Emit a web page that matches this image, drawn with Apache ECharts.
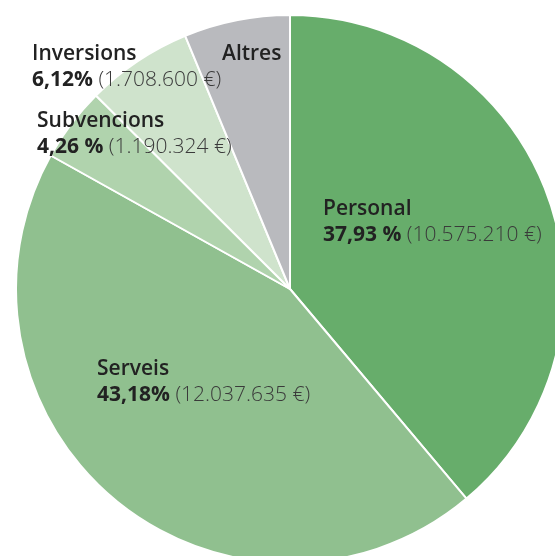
<!DOCTYPE html>
<html>
<head>
<meta charset="utf-8">
<script src="https://cdn.jsdelivr.net/npm/echarts@6/dist/echarts.min.js"></script>
<style>
html,body{margin:0;padding:0;background:#fff;}
#chart{width:555px;height:556px;}
</style>
</head>
<body>
<div id="chart"></div>
<script>
const categories = ['Personal', 'Serveis', 'Subvencions', 'Inversions', 'Altres'];
const values = [10575210, 12037635, 1190324, 1708600, 1700000];
const percentLabels = ['37,93 %', '43,18%', '4,26 %', '6,12%', ''];
const amountLabels = ['(10.575.210 €)', '(12.037.635 €)', '(1.190.324 €)', '(1.708.600 €)', ''];
const colors = ['#67ad6b', '#90c08f', '#b0d3ad', '#cfe3cc', '#b9babe'];
const labelPos = [[323, 196], [97, 356], [37, 108], [32, 41], [222, 41]];

const chart = echarts.init(document.getElementById('chart'), null, {renderer: 'canvas'});
const data = categories.map((c, i) => ({
  name: c,
  value: values[i],
  itemStyle: {color: colors[i]}
}));
chart.setOption({
  animation: false,
  series: [{
    type: 'pie',
    center: [290, 289],
    radius: [0, 274],
    startAngle: 90,
    clockwise: true,
    silent: true,
    data: data,
    itemStyle: {borderColor: '#fff', borderWidth: 2},
    labelLine: {show: false},
    label: {
      show: true,
      position: 'inside',
      align: 'left',
      verticalAlign: 'top',
      formatter: function (p) {
        const i = p.dataIndex;
        let s = '{name|' + categories[i] + '}';
        if (percentLabels[i]) {
          s += '\n{pct|' + percentLabels[i] + '}{amt| ' + amountLabels[i] + '}';
        }
        return s;
      },
      rich: {
        name: {fontFamily: 'Open Sans', fontWeight: 600, fontSize: 21, color: '#222', lineHeight: 26},
        pct: {fontFamily: 'Open Sans', fontWeight: 700, fontSize: 21, color: '#222', lineHeight: 26},
        amt: {fontFamily: 'Open Sans', fontWeight: 300, fontSize: 21, color: '#3a3a3a', lineHeight: 26}
      }
    },
    labelLayout: function (params) {
      const p = labelPos[params.dataIndex];
      return {x: p[0], y: p[1], align: 'left', verticalAlign: 'top'};
    }
  }]
});
</script>
</body>
</html>
